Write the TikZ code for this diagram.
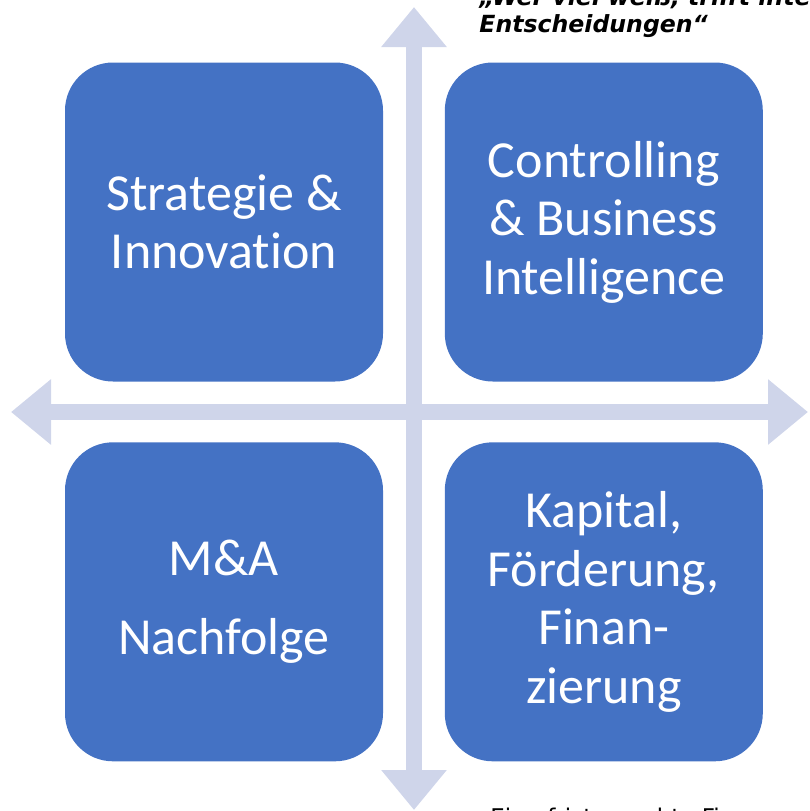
\documentclass[tikz,border=0pt]{standalone}
\usepackage{fontspec}
\setmainfont{Carlito}[Ligatures=NoCommon]
\newfontfamily\notefont{DejaVu Sans}
\usetikzlibrary{arrows.meta, positioning}
\definecolor{boxblue}{RGB}{68,114,196}
\definecolor{axislav}{RGB}{207,213,234}

\begin{document}
\begin{tikzpicture}[x=0.5pt, y=-0.5pt,
		field/.style={fill=boxblue, rounded corners=24pt, minimum width=159pt, minimum height=159.5pt, inner sep=0pt, text=white, align=center, font=\fontsize{26}{29.25}\selectfont},
		axis/.style={draw=axislav, line width=8pt, {Triangle[width=31.5pt, length=20pt]}-{Triangle[width=31.5pt, length=20pt]}},
		note/.style={inner sep=0pt, anchor=base west, font=\notefont\fontsize{11.5}{13.5}\selectfont},
		quote/.style={note, font=\notefont\bfseries\itshape\fontsize{11.8}{13.5}\selectfont}]
		\useasboundingbox (0,0) rectangle (810,811);
		% ends of the two axes
		\coordinate (top) at (414,7);
		\coordinate (bottom) at (414,810);
		\coordinate (left) at (11,412);
		\coordinate (right) at (808,412);
		\draw[axis] (top)--(bottom);
		\draw[axis] (left)--(right);
		% the four fields
		\node[field] (strat) at (224,222) {Strategie \&\\Innovation};
		\node[field, right=30.5pt of strat] (contr) {Controlling\\\& Business\\Intelligence};
		\node[field, below=30pt of strat] (ma) {M\&A\\[10pt]Nachfolge};
		\node[field, below=30pt of contr] (kapital) {Kapital,\\Förderung,\\Finan-\\zierung};
		% labels:
		\node[quote] (quoteA) at (479,5) {„Wer viel weiß, trifft inte};
		\node[quote] (quoteB) at (479,32) {Entscheidungen“};
		\node[note] (footer) at (490,825) {Eine fristgerechte Fi};
	\end{tikzpicture}
\end{document}
